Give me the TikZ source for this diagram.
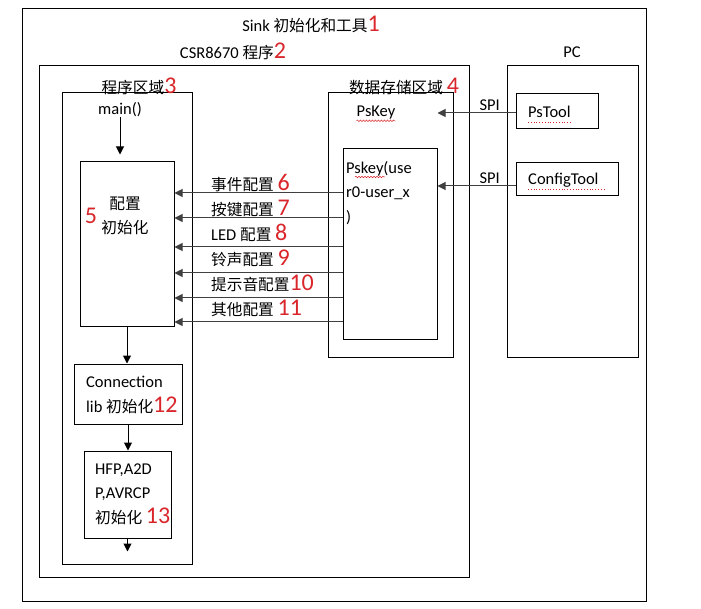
\documentclass[tikz,border=0pt]{standalone}
\usepackage{fontspec}
\setmainfont{Carlito}
\newfontfamily\cjk{Noto Sans CJK SC}[Scale=0.95]
\usetikzlibrary{arrows.meta,positioning,calc,decorations.pathmorphing}
\definecolor{numred}{HTML}{D9262B}
\definecolor{wiregray}{HTML}{404040}
\newcommand{\rednum}[1]{{\color{numred}\fontsize{24}{24}\selectfont #1}}

\begin{document}
\begin{tikzpicture}[
  x=1pt, y=-1pt,
  >={Triangle[length=8pt,width=8pt]},
  box/.style={draw, line width=1pt, inner sep=0pt},
  lbl/.style={font=\fontsize{16.5}{24.5}\selectfont, inner sep=0pt},
  arr/.style={->, line width=1pt},
  cfg/.style={->, line width=1pt, wiregray},
  spell/.style={numred, line width=0.5pt, decorate,
                decoration={snake, amplitude=0.8pt, segment length=3pt}},
  dotspell/.style={numred, line width=0.8pt, dotted}
]
\useasboundingbox (0,0) rectangle (701,609);
% outer frames
\node[box, minimum width=624pt, minimum height=592pt] (sink)    at (334,305)   {};
\node[box, minimum width=430pt, minimum height=511pt] (csr)     at (254,321.5) {};
\node[box, minimum width=130pt, minimum height=471pt] (prog)    at (127,328.5) {};
\node[box, minimum width=125pt, minimum height=264pt] (data)    at (390.5,225) {};
\node[box, minimum width=131pt, minimum height=291pt] (pc)      at (572.5,211.5) {};
% inner boxes
\node[box, minimum width=82pt,  minimum height=35pt]  (pstool)  at (557,111.5) {};
\node[box, minimum width=102pt, minimum height=33pt]  (cfgtool) at (567,179.5) {};
\node[box, minimum width=94pt,  minimum height=191pt] (userbox) at (390,244.5) {};
\node[box, minimum width=94pt,  minimum height=165pt] (initbox) at (127,244.5) {};
\node[box, minimum width=108pt, minimum height=60pt]  (connbox) at (128,394)   {};
\node[box, minimum width=87pt,  minimum height=87pt]  (hfpbox)  at (127.5,494.5) {};
% titles
\node[lbl] (title)    at (311,24)  {Sink {\cjk 初始化和工具}\rednum{1}};
\node[lbl] (csrtxt)   at (233,51)  {CSR8670 {\cjk 程序}\rednum{2}};
\node[lbl] (pctxt)    at (572,52)  {PC};
\node[lbl] (progtxt)  at (139,86)  {{\cjk 程序区域}\rednum{3}};
\node[lbl] (datatxt)  at (404,86)  {{\cjk 数据存储区域} \rednum{4}};
% box texts
\node[lbl] (main)     at (120,110) {main()};
\node[lbl] (pskey)    at (376,113) {PsKey};
\node[lbl, anchor=west] (pstooltxt) at (528,112) {PsTool};
\node[lbl, anchor=west] (cfgtooltxt) at (528,180) {ConfigTool};
\node[lbl, anchor=west, align=left] (usertxt) at (346,193) {Pskey(use\\r0-user\_x\\)};
\node[lbl, align=center] (inittxt) at (125,216) {{\cjk 配置}\\{\cjk 初始化}};
\node[lbl] (initnum)  at (91,216)  {\rednum{5}};
\node[lbl, anchor=west, align=left] (conntxt) at (86,395) {Connection\\lib {\cjk 初始化}\rednum{12}};
\node[lbl, anchor=west, align=left] (hfptxt)  at (95,494) {HFP,A2D\\P,AVRCP\\{\cjk 初始化} \rednum{13}};
% config labels
\node[lbl, anchor=west] (evt)  at (211,183) {{\cjk 事件配置} \rednum{6}};
\node[lbl, anchor=west] (key)  at (211,208) {{\cjk 按键配置} \rednum{7}};
\node[lbl, anchor=west] (led)  at (211,233) {LED {\cjk 配置} \rednum{8}};
\node[lbl, anchor=west] (ring) at (211,258) {{\cjk 铃声配置} \rednum{9}};
\node[lbl, anchor=west] (tone) at (211,283) {{\cjk 提示音配置}\rednum{10}};
\node[lbl, anchor=west] (misc) at (211,308) {{\cjk 其他配置} \rednum{11}};
% spell marks
\draw[spell] ([yshift=-1pt]pskey.south west) -- ([yshift=-1pt]pskey.south east);
\draw[spell] (355,177) -- (385,177);
\draw[dotspell] (528,122) -- (572,122);
\draw[dotspell] (528,189) -- (604,189);
% flow arrows
\coordinate (hfpend) at ([yshift=-13pt]hfpbox.south);
\draw[arr, shorten >=7pt] (main) -- (main |- initbox.north);
\draw[arr] (initbox.south) -- (initbox.south |- connbox.north);
\draw[arr] (connbox.south) -- (connbox.south |- hfpbox.north);
\draw[arr] (hfpbox.south) -- (hfpend);
% config arrows
\draw[cfg] (userbox.west |- 0,193) -- (initbox.east |- 0,193);
\draw[cfg] (userbox.west |- 0,218) -- (initbox.east |- 0,218);
\draw[cfg] (userbox.west |- 0,247) -- (initbox.east |- 0,247);
\draw[cfg] (userbox.west |- 0,273) -- (initbox.east |- 0,273);
\draw[cfg] (userbox.west |- 0,298) -- (initbox.east |- 0,298);
\draw[cfg] (userbox.west |- 0,322) -- (initbox.east |- 0,322);
% SPI links
\draw[cfg] ([yshift=-1.5pt]pstool.west) -- ([yshift=-1.5pt]pstool.west -| userbox.east)
  node[pos=0.33, above=2pt, text=black, lbl] {SPI};
\draw[cfg] ([yshift=-6.5pt]cfgtool.west) -- ([yshift=-6.5pt]cfgtool.west -| userbox.east)
  node[pos=0.33, above=2pt, text=black, lbl] {SPI};
\end{tikzpicture}
\end{document}
